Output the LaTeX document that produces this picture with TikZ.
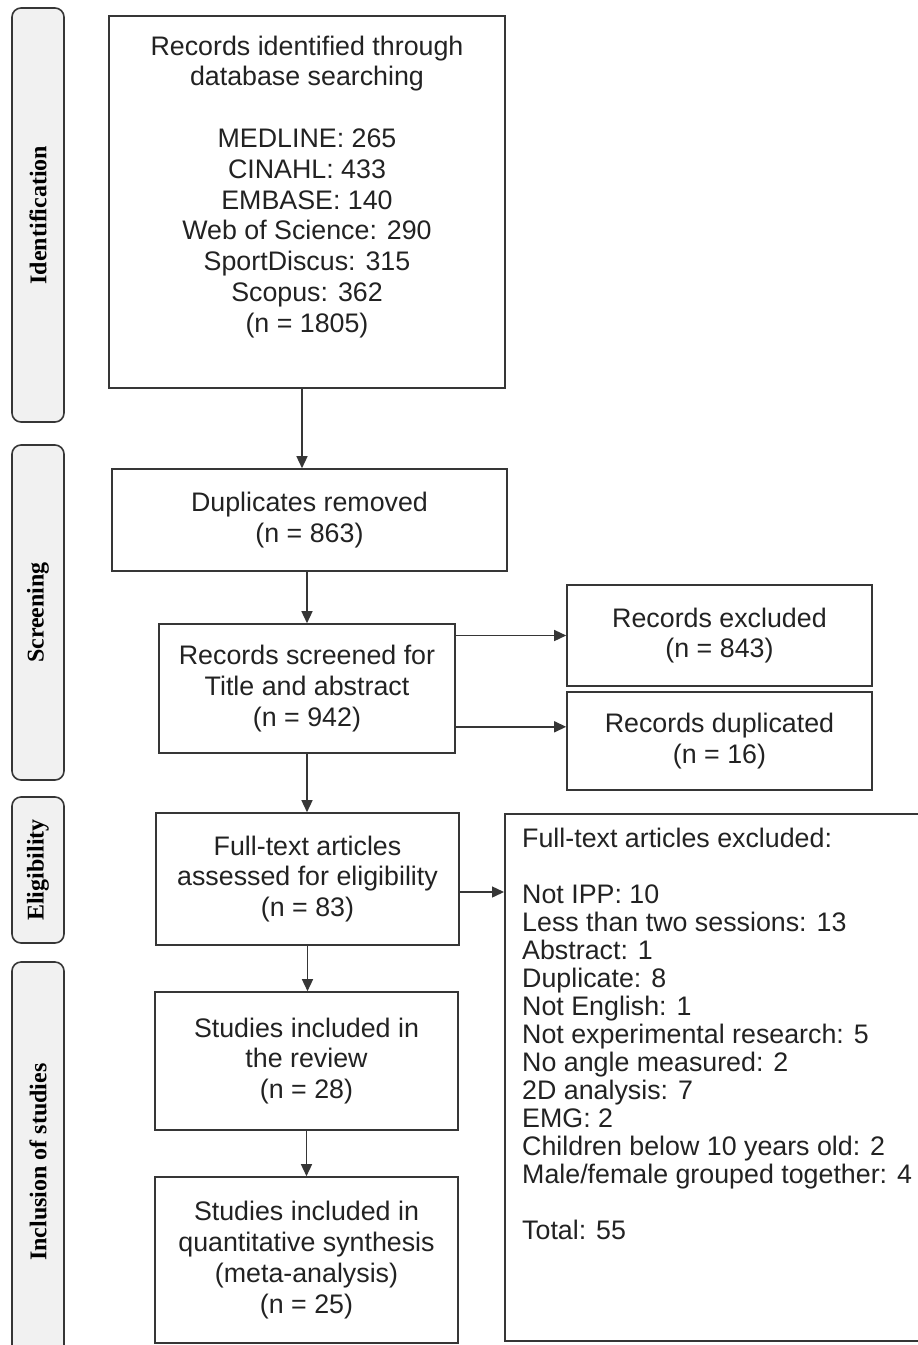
\documentclass[tikz,border=0pt]{standalone}
\usepackage{fontspec}
\setmainfont{Liberation Sans}
\newfontfamily\stagefont{Liberation Serif}
\usetikzlibrary{positioning,arrows.meta,calc}
\definecolor{edge}{HTML}{363636}
\definecolor{stagefill}{HTML}{F1F1F1}
\definecolor{ink}{HTML}{222222}
\tikzstyle{ptr}      = [draw=edge, line width=1.4pt, -{Triangle[length=12pt,width=11pt]}]
\tikzstyle{block}    = [rectangle, draw=edge, line width=1.6pt, text=ink, align=center, inner sep=0pt, font={\fontsize{26.8}{30.8}\selectfont}]
\tikzstyle{listtext} = [align=left, text=ink, inner sep=0pt, font={\fontsize{26.8}{28}\selectfont}]
\tikzstyle{stage}    = [rectangle, rounded corners=9pt, draw=edge, fill=stagefill, line width=1.6pt, rotate=90, minimum height=52pt, inner sep=0pt, text=black, font={\stagefont\bfseries\fontsize{24}{28}\selectfont}]

\begin{document}
\begin{tikzpicture}[x=1pt, y=-1pt]
    \useasboundingbox (0,0) rectangle (918,1345);

    % stages on the left
    \node[stage, minimum width=414pt] (idstage)   at (38,215)   {Identification};
    \node[stage, minimum width=335pt] (scrstage)  at (38,612.5) {Screening};
    \node[stage, minimum width=146pt] (eligstage) at (38,870)   {Eligibility};
    \node[stage, minimum width=400pt] (inclstage) at (38,1162)  {Inclusion of studies};

    % main column
    \node[block, minimum width=396pt, minimum height=372pt, text depth=36pt] (ident) at (307,202)
        {Records identified through\\database searching\\[30.8pt]MEDLINE: 265\\CINAHL: 433\\EMBASE: 140\\Web of Science: 290\\SportDiscus: 315\\Scopus: 362\\(n = 1805)};
    \node[block, minimum width=395pt, minimum height=102pt] (dup)  at (309.5,520)  {Duplicates removed\\(n = 863)};
    \node[block, minimum width=296pt, minimum height=129pt] (scr)  at (307,688.5)  {Records screened for\\Title and abstract\\(n = 942)};
    \node[block, minimum width=303pt, minimum height=132pt] (ft)   at (307.5,879)  {Full-text articles\\assessed for eligibility\\(n = 83)};
    \node[block, minimum width=303pt, minimum height=138pt] (rev)  at (306.5,1061) {Studies included in\\the review\\(n = 28)};
    \node[block, minimum width=303pt, minimum height=166pt] (meta) at (306.5,1260) {Studies included in\\quantitative synthesis\\(meta-analysis)\\(n = 25)};

    % side boxes
    \node[block, minimum width=305pt, minimum height=101pt] (excl) at (719.5,635.5) {Records excluded\\(n = 843)};
    \node[block, minimum width=305pt, minimum height=98pt]  (dupl) at (719.5,741)   {Records duplicated\\(n = 16)};
    \node[block, minimum width=426pt, minimum height=527pt, anchor=north west] (ftex) at (504,813) {};
    \node[listtext, anchor=north west] (ftexlist) at ([xshift=18pt,yshift=-15pt]ftex.north west)
        {Full-text articles excluded:\\[28pt]Not IPP: 10\\Less than two sessions: 13\\Abstract: 1\\Duplicate: 8\\Not English: 1\\Not experimental research: 5\\No angle measured: 2\\2D analysis: 7\\EMG: 2\\Children below 10 years old: 2\\Male/female grouped together: 4\\[28pt]Total: 55};

    % arrows
    \draw[ptr] ([xshift=-5pt]ident.south) -- ([xshift=-5pt]ident.south |- dup.north);
    \draw[ptr] (scr.north |- dup.south) -- (scr.north);
    \draw[ptr] (excl.west -| scr.east) -- (excl.west);
    \draw[ptr] ([yshift=27pt]scr.south east) -- ([yshift=27pt]scr.south east -| dupl.west);
    \draw[ptr] (scr.south) -- (scr.south |- ft.north);
    \draw[ptr] ([yshift=-13pt]ft.east) -- ([yshift=-13pt]ft.east -| ftex.west);
    \draw[ptr] (ft.south) -- (ft.south |- rev.north);
    \draw[ptr] (rev.south) -- (rev.south |- meta.north);

\end{tikzpicture}
\end{document}
